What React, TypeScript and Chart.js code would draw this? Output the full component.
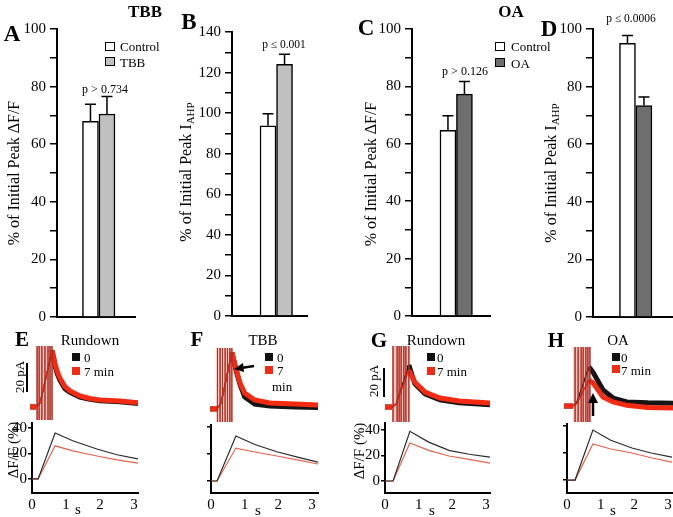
import React, { useEffect, useRef } from "react";
import { Chart, registerables } from "chart.js";
Chart.register(...registerables);

const FONT = "'Liberation Serif', 'Times New Roman', serif";

// ---------------- Bar panels (A–D) ----------------
const panelA_labels = ["Control", "TBB"];
const panelA_means = [67.9, 70.5];
const panelA_sem = [6.0, 6.1];
const panelB_labels = ["Control", "TBB"];
const panelB_means = [93.8, 124.1];
const panelB_sem = [5.9, 4.9];
const panelC_labels = ["Control", "OA"];
const panelC_means = [64.7, 77.3];
const panelC_sem = [5.1, 4.4];
const panelD_labels = ["Control", "OA"];
const panelD_means = [95.0, 73.4];
const panelD_sem = [2.7, 3.0];

// ---------------- Current traces (s, pA relative to baseline) ----------------
const E_cur_t = [-0.06, 0.12, 0.24, 0.59, 0.68, 0.75, 0.82, 0.97, 1.12, 1.41, 1.7, 2.0, 2.59, 3.12];
const E_cur_red = [0, 0, 3, 39, 29.5, 24, 20, 14, 11, 7.6, 5.8, 4.8, 4.1, 2.9];
const E_cur_black = [0, 0, 3, 39, 28, 22.5, 18.5, 12.5, 10, 6.8, 5.2, 4.2, 3.6, 2.4];
const E_spikes = [0.15, 0.21, 0.29, 0.38, 0.47, 0.53, 0.59];
const E_stim = [0.12, 0.59];

const F_cur_t = [-0.03, 0.18, 0.3, 0.62, 0.74, 0.86, 1.0, 1.3, 1.75, 2.5, 3.18];
const F_cur_red = [0, 0, 4, 39, 28, 18, 11, 6.2, 4.1, 3.4, 2.8];
const F_cur_black = [0, 0, 4, 39, 27, 17, 8.3, 3.4, 2, 1.4, 1];
const F_spikes = [0.19, 0.27, 0.34, 0.42, 0.49, 0.56, 0.62];
const F_stim = [0.18, 0.62];

const G_cur_t = [0, 0.21, 0.33, 0.71, 0.8, 0.89, 1.19, 1.63, 2.2, 3.12];
const G_cur_red = [0, 0, 2, 25.5, 21, 17, 10.3, 6.2, 4.1, 2.8];
const G_cur_black = [0, 0, 2, 29, 22, 16, 9, 5, 3, 1.5];
const G_spikes = [0.24, 0.36, 0.42, 0.48, 0.56, 0.62, 0.71];
const G_stim = [0.21, 0.71];

const H_cur_t = [-0.09, 0.18, 0.3, 0.65, 0.77, 1.07, 1.37, 1.78, 2.4, 3.15];
const H_cur_black = [0, 0, 3, 27, 23.4, 11, 5.5, 2.8, 2.2, 2];
const H_cur_red = [0, 0, 2, 18, 16, 6.2, 2.8, 0.5, -1, -1.4];
const H_spikes = [0.24, 0.33, 0.42, 0.48, 0.56, 0.62, 0.68];
const H_stim = [0.18, 0.7];

// ---------------- Fluorescence traces (s, ΔF/F %) ----------------
const E_fl_t = [0, 0.18, 0.68, 1.2, 1.91, 2.5, 3.12];
const E_fl_black = [0, 0, 36, 30, 23.5, 19, 15.7];
const E_fl_red = [0, 0, 26, 22, 18, 15, 12.5];

const F_fl_t = [0, 0.18, 0.74, 1.3, 1.96, 2.6, 3.18];
const F_fl_black = [0, 0, 33.3, 27, 21.7, 17.5, 14];
const F_fl_red = [0, 0, 24.4, 21.5, 18.5, 15.5, 12.6];

const G_fl_t = [0, 0.24, 0.74, 1.3, 1.9, 2.5, 3.12];
const G_fl_black = [0, 0, 39, 30.5, 24, 21, 18.8];
const G_fl_red = [0, 0, 29.8, 24, 19.6, 17, 14];

const H_fl_t = [0, 0.24, 0.77, 1.3, 1.93, 2.5, 3.12];
const H_fl_black = [0, 0, 37, 29.5, 23.7, 20, 17];
const H_fl_red = [0, 0, 26.7, 23, 20, 16.5, 13.3];

const fluorTickValues = [0, 20, 40];
const timeTickValues = [0, 1, 2, 3];

// ---------------- helpers ----------------
const errorBarPlugin = {
  id: "errorBars",
  afterDatasetsDraw(chart: any, _args: any, opts: any) {
    const sems: number[] = opts && opts.sems;
    if (!sems) return;
    const meta = chart.getDatasetMeta(0);
    const ys = chart.scales.y;
    const ctx = chart.ctx;
    ctx.save();
    ctx.strokeStyle = "#000";
    ctx.lineWidth = 1.5;
    meta.data.forEach((bar: any, i: number) => {
      const v = chart.data.datasets[0].data[i].y;
      const x = bar.x;
      const y0 = ys.getPixelForValue(v);
      const y1 = ys.getPixelForValue(v + sems[i]);
      ctx.beginPath();
      ctx.moveTo(x, y0);
      ctx.lineTo(x, y1);
      ctx.moveTo(x - 5.5, y1);
      ctx.lineTo(x + 5.5, y1);
      ctx.stroke();
    });
    ctx.restore();
  },
};

function ChartCanvas({ area, yw, xh, padT, padR, make }: any) {
  const ref = useRef<HTMLCanvasElement>(null);
  const L = area.l - yw;
  const T = area.t - padT;
  const W = area.r - L + padR;
  const H = area.b - T + xh;
  useEffect(() => {
    const cfg = make();
    cfg.options.layout = { padding: { top: padT, right: padR, left: 0, bottom: 0 } };
    cfg.options.responsive = false;
    cfg.options.animation = false;
    cfg.options.devicePixelRatio = 1;
    const chart = new Chart(ref.current as HTMLCanvasElement, cfg);
    return () => chart.destroy();
  }, []);
  return (
    <canvas
      ref={ref}
      width={W}
      height={H}
      style={{ position: "absolute", left: L, top: T, width: W, height: H }}
    />
  );
}

function barConfig(labels: string[], means: number[], sems: number[], colors: string[], yMax: number, xMin: number, xMax: number) {
  return {
    type: "bar",
    data: {
      labels,
      datasets: [
        {
          label: labels.join(" vs "),
          data: means.map((m, i) => ({ x: i, y: m })),
          backgroundColor: colors,
          borderColor: "#000",
          borderWidth: 1.5,
          barThickness: 16,
        },
      ],
    },
    options: {
      plugins: { legend: { display: false }, tooltip: { enabled: false }, errorBars: { sems } },
      scales: {
        x: {
          type: "linear",
          min: xMin,
          max: xMax,
          offset: false,
          grid: { display: false, drawTicks: false },
          ticks: { display: false },
          border: { display: true, color: "#000", width: 2 },
          afterFit: (s: any) => { s.height = 12; },
        },
        y: {
          min: 0,
          max: yMax,
          ticks: {
            stepSize: 10,
            callback: (v: number) => (Math.round(v) % 20 === 0 ? String(Math.round(v)) : ""),
            font: { family: FONT, size: 15 },
            color: "#000",
            padding: 4,
          },
          grid: { drawOnChartArea: false, drawTicks: true, tickLength: 7, color: "#000", lineWidth: 1.5 },
          border: { display: true, color: "#000", width: 2 },
          afterFit: (s: any) => { s.width = 57; },
        },
      },
    },
    plugins: [errorBarPlugin],
  };
}

function series(t: number[], v: number[]) {
  return t.map((x, i) => ({ x, y: v[i] }));
}

function fluorConfig(t: number[], black: number[], red: number[], xMax: number, yMin: number, yMax: number, showLabels: boolean) {
  return {
    type: "line",
    data: {
      datasets: [
        { label: "0", data: series(t, black), borderColor: "#2a2a2a", borderWidth: 1.2, pointRadius: 0 },
        { label: "7 min", data: series(t, red), borderColor: "#e8604c", borderWidth: 1.2, pointRadius: 0 },
      ],
    },
    options: {
      plugins: { legend: { display: false }, tooltip: { enabled: false } },
      scales: {
        x: {
          type: "linear",
          min: 0,
          max: xMax,
          offset: false,
          ticks: {
            stepSize: 1,
            includeBounds: false,
            font: { family: FONT, size: 15 },
            color: "#000",
            padding: 3,
            callback: (v: number) => (timeTickValues.includes(Math.round(v * 100) / 100) ? String(v) : ""),
          },
          grid: { display: false, drawTicks: false },
          border: { display: true, color: "#000", width: 2 },
          afterFit: (s: any) => { s.height = 24; },
        },
        y: {
          min: yMin,
          max: yMax,
          ticks: {
            stepSize: 20,
            includeBounds: false,
            font: { family: FONT, size: 15 },
            color: "#000",
            padding: 1,
            callback: (v: number) => (showLabels && fluorTickValues.includes(Math.round(v)) ? String(Math.round(v)) : ""),
          },
          grid: { drawOnChartArea: false, drawTicks: true, tickLength: 4, color: "#000", lineWidth: 1.5 },
          border: { display: true, color: "#000", width: 2 },
          afterFit: (s: any) => { s.width = 32; },
        },
      },
    },
  };
}

function currentConfig(t: number[], black: number[], red: number[], spikes: number[], stim: number[], xMin: number, xMax: number, yMin: number, yMax: number) {
  const spikeData: any[] = [];
  spikes.forEach((s) => {
    spikeData.push({ x: s, y: yMax + 5 }, { x: s, y: yMin - 5 }, { x: s, y: null });
  });
  const inTrain = (c: any) => c.p0.parsed.x >= stim[0] - 0.001 && c.p1.parsed.x <= stim[1] + 0.001;
  return {
    type: "line",
    data: {
      datasets: [
        { label: "stim", data: spikeData, borderColor: "rgba(175,45,35,0.75)", borderWidth: 1, pointRadius: 0, spanGaps: false, order: 0 },
        {
          label: "7 min",
          data: series(t, red),
          borderColor: "#f42a12",
          borderWidth: 5,
          pointRadius: 0,
          order: 1,
          segment: { borderWidth: (c: any) => (inTrain(c) ? 1.5 : 5) },
        },
        {
          label: "0",
          data: series(t, black),
          borderColor: "#151515",
          borderWidth: 5,
          pointRadius: 0,
          order: 2,
          segment: { borderWidth: (c: any) => (inTrain(c) ? 1.5 : 5) },
        },
        {
          label: "train",
          data: [{ x: stim[0], y: yMax + 5 }, { x: stim[1], y: yMax + 5 }],
          borderWidth: 0,
          borderColor: "rgba(0,0,0,0)",
          backgroundColor: "#f5cbc4",
          fill: "start",
          pointRadius: 0,
          order: 3,
        },
      ],
    },
    options: {
      plugins: { legend: { display: false }, tooltip: { enabled: false } },
      scales: {
        x: { type: "linear", min: xMin, max: xMax, display: false },
        y: { min: yMin, max: yMax, display: false },
      },
    },
  };
}

// ---------------- text helpers ----------------
function Txt({ x, y, size = 13, bold = false, anchor = "middle", children }: any) {
  const tx = anchor === "start" ? "0" : "-50%";
  return (
    <div
      style={{
        position: "absolute",
        left: x,
        top: y,
        transform: `translate(${tx},-50%)`,
        fontFamily: FONT,
        fontSize: size,
        fontWeight: bold ? "bold" : "normal",
        whiteSpace: "nowrap",
        lineHeight: 1,
        color: "#000",
      }}
    >
      {children}
    </div>
  );
}

function VTxt({ x, y, size = 16, children }: any) {
  return (
    <div
      style={{
        position: "absolute",
        left: x,
        top: y,
        transform: "translate(-50%,-50%) rotate(-90deg)",
        fontFamily: FONT,
        fontSize: size,
        whiteSpace: "nowrap",
        lineHeight: 1,
        color: "#000",
      }}
    >
      {children}
    </div>
  );
}

function Box({ x, y, w = 10, h = 9, fill, border = "#000" }: any) {
  return (
    <div
      style={{
        position: "absolute",
        left: x,
        top: y,
        width: w,
        height: h,
        boxSizing: "border-box",
        border: `1.5px solid ${border}`,
        background: fill,
      }}
    />
  );
}

const AHP = <span style={{ fontSize: 11, position: "relative", top: 3 }}>AHP</span>;

export default function App() {
  const barSpecs = [
    { area: { l: 57, t: 29, r: 135, b: 318 }, make: () => barConfig(panelA_labels, panelA_means, panelA_sem, ["#ffffff", "#c0c0c0"], 100, -2.03, 2.7) },
    { area: { l: 232, t: 32, r: 307, b: 317 }, make: () => barConfig(panelB_labels, panelB_means, panelB_sem, ["#ffffff", "#c0c0c0"], 140, -2.18, 2.36) },
    { area: { l: 412, t: 29, r: 490, b: 317 }, make: () => barConfig(panelC_labels, panelC_means, panelC_sem, ["#ffffff", "#6e6e6e"], 100, -2.18, 2.55) },
    { area: { l: 593, t: 29, r: 672, b: 318 }, make: () => barConfig(panelD_labels, panelD_means, panelD_sem, ["#ffffff", "#6e6e6e"], 100, -2.09, 2.7) },
  ];
  const curSpecs = [
    { area: { l: 30, t: 346, r: 138, b: 420 }, make: () => currentConfig(E_cur_t, E_cur_black, E_cur_red, E_spikes, E_stim, -0.06, 3.12, -9, 42) },
    { area: { l: 210, t: 348, r: 318, b: 422 }, make: () => currentConfig(F_cur_t, F_cur_black, F_cur_red, F_spikes, F_stim, -0.03, 3.18, -9, 42) },
    { area: { l: 385, t: 346, r: 490, b: 422 }, make: () => currentConfig(G_cur_t, G_cur_black, G_cur_red, G_spikes, G_stim, 0, 3.12, -10.3, 42) },
    { area: { l: 564, t: 347, r: 673, b: 422 }, make: () => currentConfig(H_cur_t, H_cur_black, H_cur_red, H_spikes, H_stim, -0.09, 3.15, -11, 40.7) },
  ];
  const flSpecs = [
    { area: { l: 32, t: 423, r: 138, b: 493 }, make: () => fluorConfig(E_fl_t, E_fl_black, E_fl_red, 3.12, -11, 43.9, true) },
    { area: { l: 211, t: 425, r: 318, b: 493 }, make: () => fluorConfig(F_fl_t, F_fl_black, F_fl_red, 3.18, -8.9, 41.5, false) },
    { area: { l: 385, t: 423, r: 490, b: 493 }, make: () => fluorConfig(G_fl_t, G_fl_black, G_fl_red, 3.12, -9.4, 45.5, true) },
    { area: { l: 567, t: 424, r: 672, b: 493 }, make: () => fluorConfig(H_fl_t, H_fl_black, H_fl_red, 3.12, -9.6, 41.5, false) },
  ];

  return (
    <div style={{ position: "absolute", left: 0, top: 0, width: 673, height: 517, overflow: "hidden", background: "#fff" }}>
      {barSpecs.map((s, i) => (
        <ChartCanvas key={"b" + i} area={s.area} yw={57} xh={12} padT={20} padR={10} make={s.make} />
      ))}
      {curSpecs.map((s, i) => (
        <ChartCanvas key={"c" + i} area={s.area} yw={0} xh={0} padT={0} padR={0} make={s.make} />
      ))}
      {flSpecs.map((s, i) => (
        <ChartCanvas key={"f" + i} area={s.area} yw={32} xh={24} padT={14} padR={10} make={s.make} />
      ))}

      {/* headers */}
      <Txt x={145} y={11} size={17} bold>TBB</Txt>
      <Txt x={511} y={11} size={17} bold>OA</Txt>
      <Txt x={12} y={33} size={23} bold>A</Txt>
      <Txt x={189} y={21} size={23} bold>B</Txt>
      <Txt x={366} y={27} size={23} bold>C</Txt>
      <Txt x={549} y={28} size={23} bold>D</Txt>

      {/* bar y titles */}
      <VTxt x={14} y={173}>% of Initial Peak ΔF/F</VTxt>
      <VTxt x={186} y={172}>% of Initial Peak I{AHP}</VTxt>
      <VTxt x={371} y={174}>% of Initial Peak ΔF/F</VTxt>
      <VTxt x={551} y={173}>% of Initial Peak I{AHP}</VTxt>

      {/* p values */}
      <Txt x={105} y={89} size={12}>p &gt; 0.734</Txt>
      <Txt x={284} y={45} size={11.5}>p ≤ 0.001</Txt>
      <Txt x={465} y={71} size={12}>p &gt; 0.126</Txt>
      <Txt x={631} y={19} size={11.5}>p ≤ 0.0006</Txt>

      {/* bar legends */}
      <Box x={105} y={42} fill="#fff" />
      <Txt x={120} y={46} size={13} anchor="start">Control</Txt>
      <Box x={105} y={57} fill="#c0c0c0" />
      <Txt x={120} y={62} size={13} anchor="start">TBB</Txt>
      <Box x={495} y={42} fill="#fff" />
      <Txt x={511} y={46} size={13} anchor="start">Control</Txt>
      <Box x={495} y={58} fill="#6e6e6e" />
      <Txt x={511} y={63} size={13} anchor="start">OA</Txt>

      {/* bottom panel letters / titles */}
      <Txt x={22} y={339} size={21} bold>E</Txt>
      <Txt x={197} y={339} size={21} bold>F</Txt>
      <Txt x={379} y={340} size={21} bold>G</Txt>
      <Txt x={556} y={340} size={21} bold>H</Txt>
      <Txt x={90} y={340} size={15}>Rundown</Txt>
      <Txt x={263} y={340} size={15}>TBB</Txt>
      <Txt x={436} y={340} size={15}>Rundown</Txt>
      <Txt x={618} y={340} size={15}>OA</Txt>

      {/* trace legends */}
      <Box x={72} y={353} w={8} h={8} fill="#111" border="#111" />
      <Txt x={84} y={357} size={13} anchor="start">0</Txt>
      <Box x={72} y={367} w={8} h={8} fill="#f42a12" border="#f42a12" />
      <Txt x={84} y={371} size={13} anchor="start">7 min</Txt>

      <Box x={265} y={353} w={8} h={8} fill="#111" border="#111" />
      <Txt x={277} y={357} size={13} anchor="start">0</Txt>
      <Box x={265} y={366} w={8} h={8} fill="#f42a12" border="#f42a12" />
      <Txt x={277} y={370} size={13} anchor="start">7</Txt>
      <Txt x={272} y={386} size={13} anchor="start">min</Txt>

      <Box x={427} y={353} w={8} h={8} fill="#111" border="#111" />
      <Txt x={437} y={357} size={13} anchor="start">0</Txt>
      <Box x={427} y={367} w={8} h={8} fill="#f42a12" border="#f42a12" />
      <Txt x={437} y={371} size={13} anchor="start">7 min</Txt>

      <Box x={612} y={353} w={8} h={8} fill="#111" border="#111" />
      <Txt x={621} y={357} size={13} anchor="start">0</Txt>
      <Box x={612} y={365} w={8} h={8} fill="#f42a12" border="#f42a12" />
      <Txt x={621} y={370} size={13} anchor="start">7 min</Txt>

      {/* scale bars */}
      <div style={{ position: "absolute", left: 26, top: 363, width: 2, height: 29, background: "#000" }} />
      <VTxt x={19} y={377} size={13}>20 pA</VTxt>
      <div style={{ position: "absolute", left: 383, top: 368, width: 2, height: 29, background: "#000" }} />
      <VTxt x={373} y={381} size={13}>20 pA</VTxt>

      {/* fluorescence y titles */}
      <VTxt x={13} y={450} size={15}>ΔF/F (%)</VTxt>
      <VTxt x={359} y={451} size={15}>ΔF/F (%)</VTxt>

      {/* s labels */}
      <Txt x={78} y={509} size={15}>s</Txt>
      <Txt x={258} y={510} size={15}>s</Txt>
      <Txt x={432} y={510} size={15}>s</Txt>
      <Txt x={613} y={510} size={15}>s</Txt>

      {/* arrows */}
      <svg width={673} height={517} style={{ position: "absolute", left: 0, top: 0, pointerEvents: "none" }}>
        <line x1={254} y1={366} x2={241} y2={368} stroke="#000" strokeWidth={2.5} />
        <polygon points="234,369 243,363 244,372" fill="#000" />
        <line x1={593} y1={416} x2={593} y2={401} stroke="#000" strokeWidth={2.5} />
        <polygon points="593,393 588,403 598,403" fill="#000" />
      </svg>
    </div>
  );
}
